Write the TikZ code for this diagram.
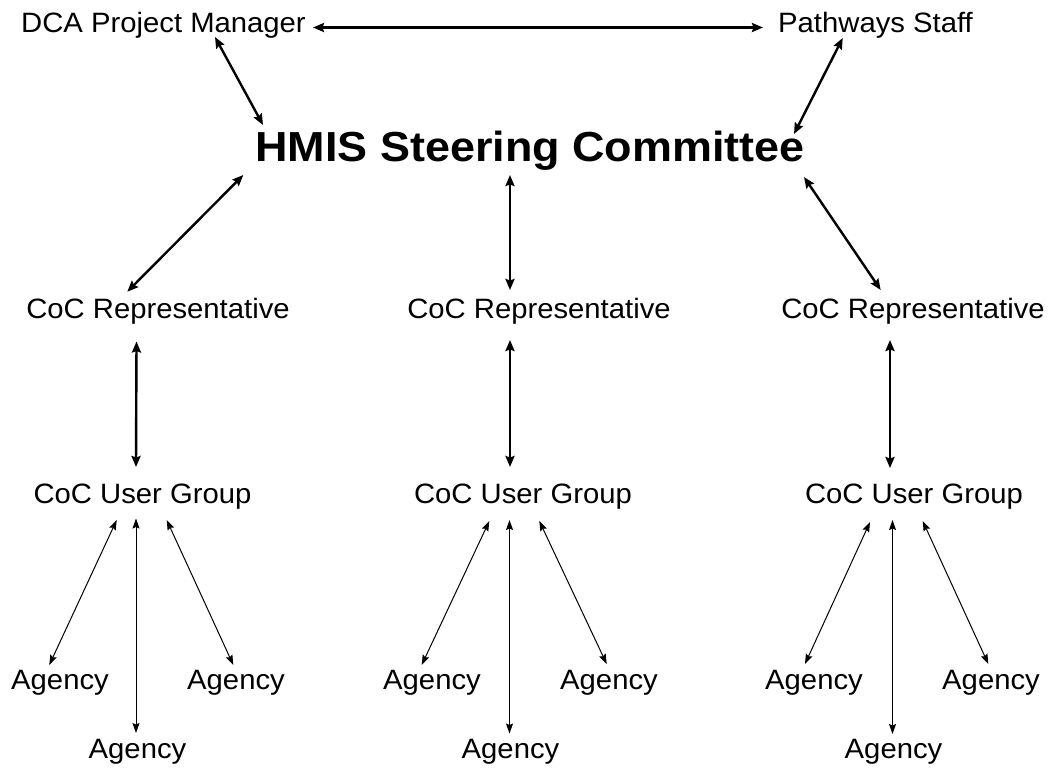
\documentclass[tikz,border=0pt]{standalone}
\usepackage{fontspec}
\setmainfont{Liberation Sans}[FakeStretch=1.045]
\newfontfamily\titlefont{Liberation Sans}[FakeStretch=1.07]
\usetikzlibrary{arrows.meta,calc}
\tikzset{
  lbl/.style={anchor=base, inner sep=0pt, font=\fontsize{28}{30}\selectfont},
  title/.style={anchor=base, inner sep=0pt, font=\titlefont\fontsize{42}{46}\bfseries\selectfont},
  thick arr/.style={line width=2.4pt, {Stealth[length=11pt,width=9pt,inset=1.5pt]}-{Stealth[length=11pt,width=9pt,inset=1.5pt]}},
  thin arr/.style={line width=1pt, {Stealth[length=10pt,width=7pt,inset=1.5pt]}-{Stealth[length=10pt,width=7pt,inset=1.5pt]}}
}
\begin{document}
\begin{tikzpicture}[x=1pt,y=-1pt]
\useasboundingbox[fill=white] (0,0) rectangle (1051,768);
% nodes
\node[lbl] (dca) at (163.5,32.5) {DCA Project Manager};
\node[lbl] (pw) at (875.5,32.5) {Pathways Staff};
\node[title] (hmis) at (530,161) {HMIS Steering Committee};
\node[lbl] (rep1) at (158,318) {CoC Representative};
\node[lbl] (rep2) at (539,318) {CoC Representative};
\node[lbl] (rep3) at (913,318) {CoC Representative};
\node[lbl] (ug1) at (142.5,503) {CoC User Group};
\node[lbl] (ug2) at (523,503) {CoC User Group};
\node[lbl] (ug3) at (914,503) {CoC User Group};
\node[lbl] (a11) at (60,689.5) {Agency};
\node[lbl] (a12) at (236,689.5) {Agency};
\node[lbl] (a13) at (137.5,758) {Agency};
\node[lbl] (a21) at (432,689.5) {Agency};
\node[lbl] (a22) at (609,689.5) {Agency};
\node[lbl] (a23) at (510.5,758) {Agency};
\node[lbl] (a31) at (814,689.5) {Agency};
\node[lbl] (a32) at (991,689.5) {Agency};
\node[lbl] (a33) at (893.5,758) {Agency};
% top connectors
\draw[thick arr] ($(dca.base)+(149.5,-5)$) -- ($(pw.base)+(-112.5,-5)$);
\draw[thick arr] ($(dca.base)+(51.5,4.5)$) -- ($(hmis.base)+(-267,-36)$);
\draw[thick arr] ($(pw.base)+(-32.8,5.5)$) -- ($(hmis.base)+(264,-27)$);
\draw[thick arr] ($(hmis.base)+(-286.7,14)$) -- ($(rep1.base)+(-30.7,-26.3)$);
\draw[thick arr] ($(hmis.base)+(-20,14)$) -- ($(rep2.base)+(-29,-28)$);
\draw[thick arr] ($(hmis.base)+(274,16)$) -- ($(rep3.base)+(-32.3,-28)$);
\draw[thick arr] ($(rep1.base)+(-21.5,23.5)$) -- ($(ug1.base)+(-6.5,-36)$);
\draw[thick arr] ($(rep2.base)+(-29,22)$) -- ($(ug2.base)+(-13,-36)$);
\draw[thick arr] ($(rep3.base)+(-23,22)$) -- ($(ug3.base)+(-24,-35)$);
% agency connectors
\draw[thin arr] ($(ug1.base)+(-25.8,17)$) -- ($(a11.base)+(-10.7,-24.5)$);
\draw[thin arr] ($(ug1.base)+(-6.5,15.5)$) -- ($(a13.base)+(-1.5,-25)$);
\draw[thin arr] ($(ug1.base)+(24.2,17)$) -- ($(a12.base)+(-2.7,-24.5)$);
\draw[thin arr] ($(ug2.base)+(-33.7,18)$) -- ($(a21.base)+(-10.3,-24.5)$);
\draw[thin arr] ($(ug2.base)+(-13.5,17)$) -- ($(a23.base)+(-1,-24.5)$);
\draw[thin arr] ($(ug2.base)+(16.3,18)$) -- ($(a22.base)+(-2.3,-25.5)$);
\draw[thin arr] ($(ug3.base)+(-44,19)$) -- ($(a31.base)+(-9,-25.5)$);
\draw[thin arr] ($(ug3.base)+(-21.5,17)$) -- ($(a33.base)+(-1,-24)$);
\draw[thin arr] ($(ug3.base)+(8.7,18)$) -- ($(a32.base)+(-2.7,-25.5)$);
\end{tikzpicture}
\end{document}
